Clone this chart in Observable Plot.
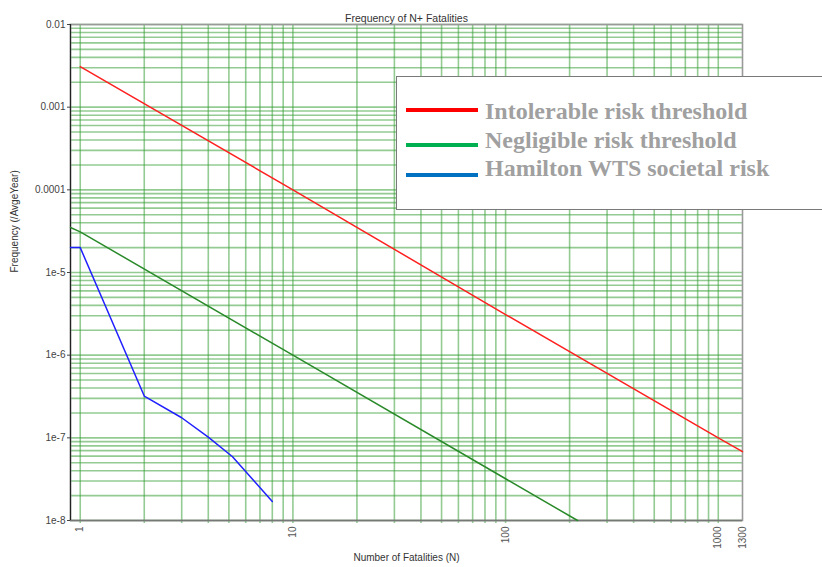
<!DOCTYPE html>
<html>
<head>
<meta charset="utf-8">
<script src="https://cdn.jsdelivr.net/npm/d3@7"></script>
<script src="https://cdn.jsdelivr.net/npm/@observablehq/plot@0.6"></script>
<style>
  html, body { margin: 0; padding: 0; background: white; }
  #wrap { position: relative; width: 822px; height: 567px; overflow: hidden; }
  #legend { position: absolute; left: 396px; top: 76px; width: 440px; height: 134px;
    background: white; border: 1px solid #7a7a7a; box-sizing: border-box; }
  .lg-line { position: absolute; left: 9px; width: 72px; height: 4px; }
  .lg-text { position: absolute; left: 88px; font-family: "Liberation Serif", "Times New Roman", serif;
    font-weight: bold; font-size: 24px; color: #a0a0a0; white-space: nowrap; line-height: 1; }
</style>
</head>
<body>
<div id="wrap"></div>
<script>
// ---- data ----
const redN = [1, 10, 100, 1000, 1300];
const redF = [3.1e-3, 1.0e-4, 3.1e-6, 1.0e-7, 6.8e-8];
const greenN = [0.9, 1, 10, 100, 218];
const greenF = [3.5e-5, 3.1e-5, 1.0e-6, 3.2e-8, 1.0e-8];
const blueN = [0.9, 1, 2, 3, 4, 5.2, 8];
const blueF = [2.0e-5, 2.0e-5, 3.2e-7, 1.75e-7, 1.02e-7, 5.9e-8, 1.7e-8];

const yTicks = [1e-2, 1e-3, 1e-4, 1e-5, 1e-6, 1e-7, 1e-8];
const yTickLabels = ["0.01", "0.001", "0.0001", "1e-5", "1e-6", "1e-7", "1e-8"];
const xTicks = [1, 10, 100, 1000, 1300];
const xTickLabels = ["1", "10", "100", "1000", "1300"];

const seriesNames = ["Intolerable risk threshold", "Negligible risk threshold", "Hamilton WTS societal risk"];
const legendColors = ["#ff0000", "#00b050", "#0070c0"];
const lineColors = ["#ff2020", "#2a8a2a", "#2020ff"];

const titleText = "Frequency of N+ Fatalities";
const xLabel = "Number of Fatalities (N)";
const yLabel = "Frequency (/AvgeYear)";

// grid positions (1..9 x decades)
const xGrid = [];
for (const p of [1, 10, 100]) for (let m = 1; m <= 9; m++) xGrid.push(m * p);
xGrid.push(1000);
const yGrid = [];
for (let e = -8; e <= -3; e++) for (let m = 1; m <= 9; m++) yGrid.push(m * Math.pow(10, e));
yGrid.push(1e-2);

const toRows = (N, F) => N.map((n, i) => ({n, f: F[i]}));
const red = toRows(redN, redF), green = toRows(greenN, greenF), blue = toRows(blueN, blueF);

const lookup = (ticks, labels) => d => {
  const i = ticks.findIndex(t => Math.abs(Math.log10(t) - Math.log10(d)) < 1e-6);
  return i >= 0 ? labels[i] : "";
};

const gridColor = "#3aa03a";
const chart = Plot.plot({
  width: 822, height: 567,
  marginLeft: 70, marginRight: 80, marginTop: 24, marginBottom: 47,
  style: {fontFamily: "'Liberation Sans', Arial, sans-serif", fontSize: "10px", color: "#444", background: "white"},
  x: {type: "log", domain: [0.9, 1300]},
  y: {type: "log", domain: [1e-8, 1e-2]},
  marks: [
    Plot.gridX(xGrid, {stroke: gridColor, strokeOpacity: 0.55, strokeWidth: 1.6}),
    Plot.gridY(yGrid, {stroke: gridColor, strokeOpacity: 0.55, strokeWidth: 1.6}),
    Plot.axisX({ticks: xGrid, tickFormat: () => "", tickSize: 3, stroke: gridColor, strokeOpacity: 0.55, strokeWidth: 1.6, label: null}),
    Plot.frame({stroke: "#999", strokeWidth: 1.6}),
    Plot.ruleY([1e-8], {stroke: "#777", strokeWidth: 1.4}),
    Plot.ruleX([0.9], {stroke: "#222", strokeWidth: 1.2}),
    Plot.axisY({ticks: yTicks, tickFormat: lookup(yTicks, yTickLabels), tickSize: 3, tickPadding: 2, label: null, fill: "#444", fontSize: 10}),
    Plot.axisX({ticks: xTicks, tickFormat: lookup(xTicks, xTickLabels), tickSize: 0, tickPadding: 6, tickRotate: -90, label: null, fill: "#555", fontSize: 10}),
    Plot.line(red, {x: "n", y: "f", stroke: lineColors[0], strokeWidth: 1.5}),
    Plot.line(green, {x: "n", y: "f", stroke: lineColors[1], strokeWidth: 1.5}),
    Plot.line(blue, {x: "n", y: "f", stroke: lineColors[2], strokeWidth: 1.5}),
    Plot.text([titleText], {text: d => d, frameAnchor: "top", dy: -10, fill: "#333", fontSize: 10.5}),
    Plot.text([xLabel], {text: d => d, frameAnchor: "bottom", dy: 40, fill: "#333", fontSize: 10}),
    Plot.text([yLabel], {text: d => d, frameAnchor: "left", dx: -56, rotate: -90, fill: "#333", fontSize: 10})
  ]
});
const wrap = document.getElementById("wrap");
wrap.appendChild(chart);

// legend overlay
const legend = document.createElement("div");
legend.id = "legend";
const lineTops = [31, 66, 96];
const textTops = [22, 51, 79];
seriesNames.forEach((name, i) => {
  const ln = document.createElement("div");
  ln.className = "lg-line";
  ln.style.top = lineTops[i] + "px";
  ln.style.background = legendColors[i];
  legend.appendChild(ln);
  const tx = document.createElement("div");
  tx.className = "lg-text";
  tx.style.top = textTops[i] + "px";
  tx.textContent = name;
  legend.appendChild(tx);
});
wrap.appendChild(legend);
</script>
</body>
</html>
